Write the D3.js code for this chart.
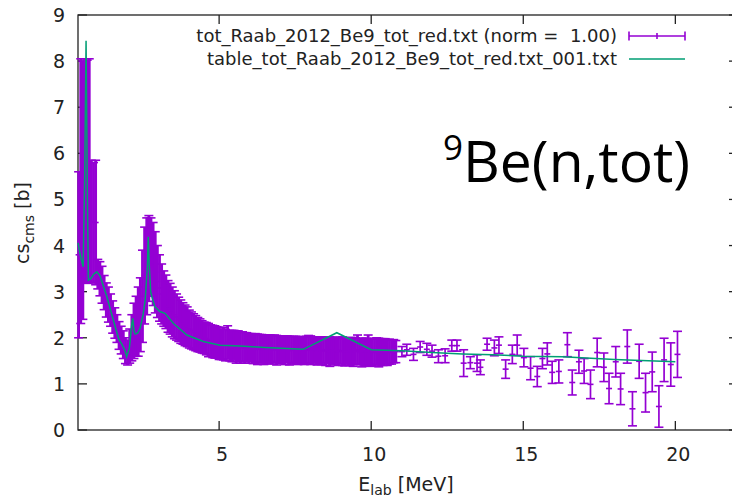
<!DOCTYPE html>
<html>
<head>
<meta charset="utf-8">
<script src="https://cdn.jsdelivr.net/npm/d3@7"></script>
<style>
  body { margin: 0; background: #fff; }
  svg { display: block; font-family: "DejaVu Sans", sans-serif; }
</style>
</head>
<body>
<svg></svg>
<script>
// measured data (dense part, below ~11 MeV)
var denseE = [0.38,0.45,0.52,0.59,0.66,0.73,0.80,0.87,0.94,1.01,1.08,1.15,1.22,1.29,1.36,1.43,1.50,1.57,1.64,1.71,
  1.78,1.85,1.92,1.99,2.06,2.13,2.20,2.27,2.34,2.41,2.48,2.55,2.62,2.69,2.76,2.83,2.90,2.97,3.04,3.11,
  3.18,3.25,3.32,3.39,3.46,3.53,3.60,3.67,3.74,3.81,3.88,3.95,4.02,4.09,4.16,4.23,4.30,4.37,4.44,4.51,
  4.58,4.65,4.72,4.79,4.86,4.93,5.00,5.07,5.14,5.21,5.28,5.35,5.42,5.49,5.56,5.63,5.70,5.77,5.84,5.91,
  5.98,6.05,6.12,6.19,6.26,6.33,6.40,6.47,6.54,6.61,6.68,6.75,6.82,6.89,6.96,7.03,7.10,7.17,7.24,7.31,
  7.38,7.45,7.52,7.59,7.66,7.73,7.80,7.87,7.94,8.01,8.08,8.15,8.22,8.29,8.36,8.43,8.50,8.57,8.64,8.71,
  8.78,8.85,8.92,8.99,9.06,9.13,9.20,9.27,9.34,9.41,9.48,9.55,9.62,9.69,9.76,9.83,9.90,9.97,10.04,10.11,
  10.18,10.25,10.32,10.39,10.46,10.53,10.60,10.67,10.74,10.81]
var denseCs = [3.80,5.18,5.20,5.62,5.60,5.62,4.52,4.50,4.50,3.38,3.28,3.15,2.98,2.82,2.72,2.60,2.45,2.32,2.20,2.05,
  1.95,1.85,1.72,1.68,1.82,2.00,2.15,2.25,2.35,2.50,2.90,3.35,3.55,3.72,3.75,3.60,3.42,3.22,3.08,2.95,
  2.85,2.78,2.68,2.63,2.56,2.50,2.45,2.40,2.35,2.31,2.27,2.24,2.19,2.16,2.13,2.10,2.07,2.05,2.02,2.00,
  1.98,1.95,1.94,1.92,1.91,1.90,1.88,1.86,1.87,1.84,1.90,1.83,1.82,1.84,1.80,1.82,1.79,1.81,1.78,1.80,
  1.77,1.79,1.76,1.78,1.75,1.77,1.76,1.74,1.76,1.75,1.77,1.74,1.76,1.73,1.75,1.74,1.76,1.73,1.75,1.72,
  1.74,1.73,1.75,1.72,1.74,1.73,1.72,1.74,1.75,1.73,1.72,1.74,1.71,1.73,1.72,1.74,1.71,1.73,1.70,1.72,
  1.71,1.73,1.70,1.72,1.71,1.69,1.71,1.70,1.72,1.69,1.71,1.74,1.70,1.68,1.70,1.69,1.73,1.68,1.70,1.69,
  1.71,1.68,1.70,1.69,1.71,1.68,1.70,1.69,1.71,1.70]
var denseErr = [1.80,2.87,2.80,2.43,2.42,2.43,1.33,1.30,1.35,0.32,0.37,0.40,0.37,0.37,0.38,0.35,0.35,0.33,0.30,0.30,
  0.30,0.30,0.28,0.27,0.37,0.50,0.60,0.65,0.75,0.80,1.00,1.05,1.05,0.93,0.85,0.90,0.88,0.78,0.72,0.65,
  0.60,0.58,0.56,0.55,0.54,0.52,0.50,0.48,0.47,0.45,0.44,0.43,0.41,0.40,0.39,0.38,0.37,0.36,0.35,0.34,
  0.35,0.36,0.34,0.35,0.35,0.34,0.35,0.33,0.35,0.34,0.36,0.33,0.34,0.32,0.35,0.33,0.34,0.32,0.33,0.31,
  0.32,0.30,0.32,0.31,0.33,0.30,0.31,0.32,0.30,0.31,0.29,0.31,0.30,0.32,0.29,0.30,0.28,0.31,0.29,0.31,
  0.29,0.30,0.28,0.30,0.29,0.28,0.30,0.29,0.30,0.31,0.29,0.28,0.30,0.29,0.30,0.28,0.31,0.29,0.32,0.29,
  0.30,0.28,0.30,0.29,0.31,0.30,0.28,0.30,0.29,0.31,0.29,0.32,0.28,0.31,0.29,0.30,0.33,0.30,0.28,0.30,
  0.29,0.31,0.28,0.29,0.27,0.28,0.27,0.26,0.25,0.24]

// measured data (sparse part, above ~11 MeV)
var sparseE = [11.01,11.17,11.39,11.61,11.83,12.00,12.21,12.43,12.65,12.82,13.04,13.26,13.48,13.59,13.81,14.05,14.20,14.42,14.64,14.80,
  15.02,15.24,15.46,15.63,15.79,15.95,16.17,16.45,16.61,16.83,17.00,17.21,17.43,17.65,17.82,18.04,18.20,18.42,18.59,18.81,
  19.02,19.24,19.46,19.63,19.85,20.07]
var sparseCs = [1.70,1.74,1.64,1.80,1.75,1.71,1.60,1.61,1.83,1.83,1.45,1.46,1.45,1.36,1.86,1.78,1.84,1.32,1.64,1.84,
  1.57,1.34,1.16,1.55,1.65,1.25,1.27,1.85,1.03,1.48,1.28,0.99,1.68,1.36,0.90,1.48,0.89,1.81,0.46,1.49,
  0.81,1.26,0.51,1.52,1.42,1.64]
var sparseErr = [0.11,0.12,0.13,0.12,0.13,0.13,0.14,0.15,0.12,0.12,0.29,0.13,0.18,0.16,0.13,0.17,0.18,0.20,0.20,0.22,
  0.20,0.25,0.22,0.22,0.24,0.24,0.25,0.26,0.27,0.25,0.27,0.31,0.31,0.31,0.33,0.33,0.34,0.36,0.37,0.37,
  0.42,0.43,0.45,0.47,0.47,0.50]

// evaluated table
var tableE = [0.36,0.45,0.53,0.58,0.625,0.67,0.70,0.78,0.88,0.98,1.08,1.18,1.31,1.45,1.60,1.70,1.80,1.90,1.96,2.05,
  2.12,2.16,2.20,2.24,2.32,2.40,2.50,2.57,2.64,2.67,2.70,2.75,2.79,2.89,3.05,3.22,3.50,3.94,4.48,5.03,
  5.69,6.50,7.77,8.87,10.0,11.0,12.0,13.0,14.0,15.0,16.3,18.0,20.0]
var tableCs = [4.06,3.75,3.54,5.50,8.44,5.00,3.25,3.28,3.38,3.43,3.35,3.15,2.89,2.55,2.20,1.97,1.86,1.73,1.59,1.78,
  2.25,2.42,2.15,2.08,2.10,2.20,2.50,2.82,3.54,4.19,3.60,3.00,2.89,2.67,2.57,2.53,2.31,2.06,1.92,1.84,
  1.82,1.79,1.75,2.11,1.74,1.72,1.68,1.65,1.63,1.60,1.59,1.53,1.48]

var yTicks = [0,1,2,3,4,5,6,7,8,9]
var xTicks = [5,10,15,20]
var legendNames = ["tot_Raab_2012_Be9_tot_red.txt (norm =  1.00)", "table_tot_Raab_2012_Be9_tot_red.txt_001.txt"]

var screen = {width:732, height:500}
var plot = {left:78, top:15, right:738, bottom:430}
var purple = "#9400d3"
var green = "#009e73"
var capW = 4.5

var svg = d3.select("svg")
    .attr("width", screen.width)
    .attr("height", screen.height)

var xScale = d3.scaleLinear().domain([0.36, 22.06]).range([plot.left, plot.right])
var yScale = d3.scaleLinear().domain([0, 9]).range([plot.bottom, plot.top])

//glue the three arrays of each set together
var densePts = denseE.map(function(e,i){ return {e:e, cs:denseCs[i], err:denseErr[i]} })
var sparsePts = sparseE.map(function(e,i){ return {e:e, cs:sparseCs[i], err:sparseErr[i]} })
var table = tableE.map(function(e,i){ return [e, tableCs[i]] })

// border
svg.append("rect")
    .attr("x", plot.left).attr("y", plot.top)
    .attr("width", plot.right-plot.left).attr("height", plot.bottom-plot.top)
    .attr("fill", "none").attr("stroke", "#222").attr("stroke-width", 1.3)

// ticks, all pointing inward, mirrored on top and right
var tickLen = 9
var tg = svg.append("g").attr("stroke", "#222").attr("stroke-width", 1.3)
yTicks.forEach(function(t){
    tg.append("line").attr("x1", plot.left).attr("x2", plot.left+tickLen)
        .attr("y1", yScale(t)).attr("y2", yScale(t))
    tg.append("line").attr("x1", plot.right).attr("x2", plot.right-tickLen)
        .attr("y1", yScale(t)).attr("y2", yScale(t))
})
xTicks.forEach(function(t){
    tg.append("line").attr("x1", xScale(t)).attr("x2", xScale(t))
        .attr("y1", plot.bottom).attr("y2", plot.bottom-tickLen)
    tg.append("line").attr("x1", xScale(t)).attr("x2", xScale(t))
        .attr("y1", plot.top).attr("y2", plot.top+tickLen)
})

svg.append("g").selectAll("text").data(yTicks).enter().append("text")
    .attr("x", 65).attr("y", function(t){ return yScale(t)+7 })
    .attr("text-anchor", "end").attr("font-size", 19).attr("fill", "#222")
    .text(function(t){ return t })
svg.append("g").selectAll("text").data(xTicks).enter().append("text")
    .attr("x", function(t){ return xScale(t)+3 }).attr("y", 461)
    .attr("text-anchor", "middle").attr("font-size", 19).attr("fill", "#222")
    .text(function(t){ return t })

// axis titles
var xl = svg.append("text").attr("x", 406).attr("y", 491)
    .attr("text-anchor", "middle").attr("font-size", 19).attr("fill", "#222")
xl.append("tspan").text("E")
xl.append("tspan").attr("font-size", 14).attr("dy", 4).text("lab")
xl.append("tspan").attr("dy", -4).text(" [MeV]")

var yl = svg.append("text").attr("transform", "translate(29,223) rotate(-90)")
    .attr("text-anchor", "middle").attr("font-size", 19).attr("fill", "#222")
yl.append("tspan").text("cs")
yl.append("tspan").attr("font-size", 14).attr("dy", 5).text("cms")
yl.append("tspan").attr("dy", -5).text(" [b]")

// error bars: vertical line, two caps and the little point mark
var drawBars = function(pts, width)
{
    var bars = svg.append("g").attr("stroke", purple)
        .selectAll("g").data(pts).enter().append("g")
    bars.append("line").attr("stroke-width", width)
        .attr("x1", function(d){ return xScale(d.e) }).attr("x2", function(d){ return xScale(d.e) })
        .attr("y1", function(d){ return yScale(d.cs-d.err) }).attr("y2", function(d){ return yScale(d.cs+d.err) })
    bars.append("line").attr("stroke-width", 1.6)
        .attr("x1", function(d){ return xScale(d.e)-capW }).attr("x2", function(d){ return xScale(d.e)+capW })
        .attr("y1", function(d){ return yScale(d.cs-d.err) }).attr("y2", function(d){ return yScale(d.cs-d.err) })
    bars.append("line").attr("stroke-width", 1.6)
        .attr("x1", function(d){ return xScale(d.e)-capW }).attr("x2", function(d){ return xScale(d.e)+capW })
        .attr("y1", function(d){ return yScale(d.cs+d.err) }).attr("y2", function(d){ return yScale(d.cs+d.err) })
    bars.append("line").attr("stroke-width", 1.6)
        .attr("x1", function(d){ return xScale(d.e)-3 }).attr("x2", function(d){ return xScale(d.e)+3 })
        .attr("y1", function(d){ return yScale(d.cs) }).attr("y2", function(d){ return yScale(d.cs) })
}
drawBars(densePts, 2.8)
drawBars(sparsePts, 1.7)

// table line
var lineGenerator = d3.line()
    .x(function(d){ return xScale(d[0]) })
    .y(function(d){ return yScale(d[1]) })
svg.append("path").datum(table)
    .attr("d", lineGenerator)
    .attr("fill", "none").attr("stroke", green).attr("stroke-width", 1.5)

// legend
var legend = svg.append("g")
legend.selectAll("text").data(legendNames).enter().append("text")
    .attr("x", 617).attr("y", function(d,i){ return 42 + i*23 })
    .attr("text-anchor", "end").attr("font-size", 18).attr("fill", "#222")
    .style("white-space", "pre")
    .text(function(d){ return d })
var lg = legend.append("g").attr("stroke", purple).attr("stroke-width", 1.6)
lg.append("line").attr("x1", 629).attr("x2", 685).attr("y1", 36).attr("y2", 36)
lg.append("line").attr("x1", 629).attr("x2", 629).attr("y1", 31.5).attr("y2", 40.5)
lg.append("line").attr("x1", 685).attr("x2", 685).attr("y1", 31.5).attr("y2", 40.5)
lg.append("line").attr("x1", 657).attr("x2", 657).attr("y1", 33).attr("y2", 39)
legend.append("line").attr("x1", 629).attr("x2", 685).attr("y1", 59).attr("y2", 59)
    .attr("stroke", green).attr("stroke-width", 1.5)

// reaction label
var title = svg.append("text").attr("x", 443).attr("y", 182)
    .attr("font-family", "Open Sans, sans-serif").attr("font-size", 57).attr("fill", "#000")
title.append("tspan").attr("font-size", 35).attr("dy", -22).text("9")
title.append("tspan").attr("dy", 22).text("Be(n,tot)")
</script>
</body>
</html>
